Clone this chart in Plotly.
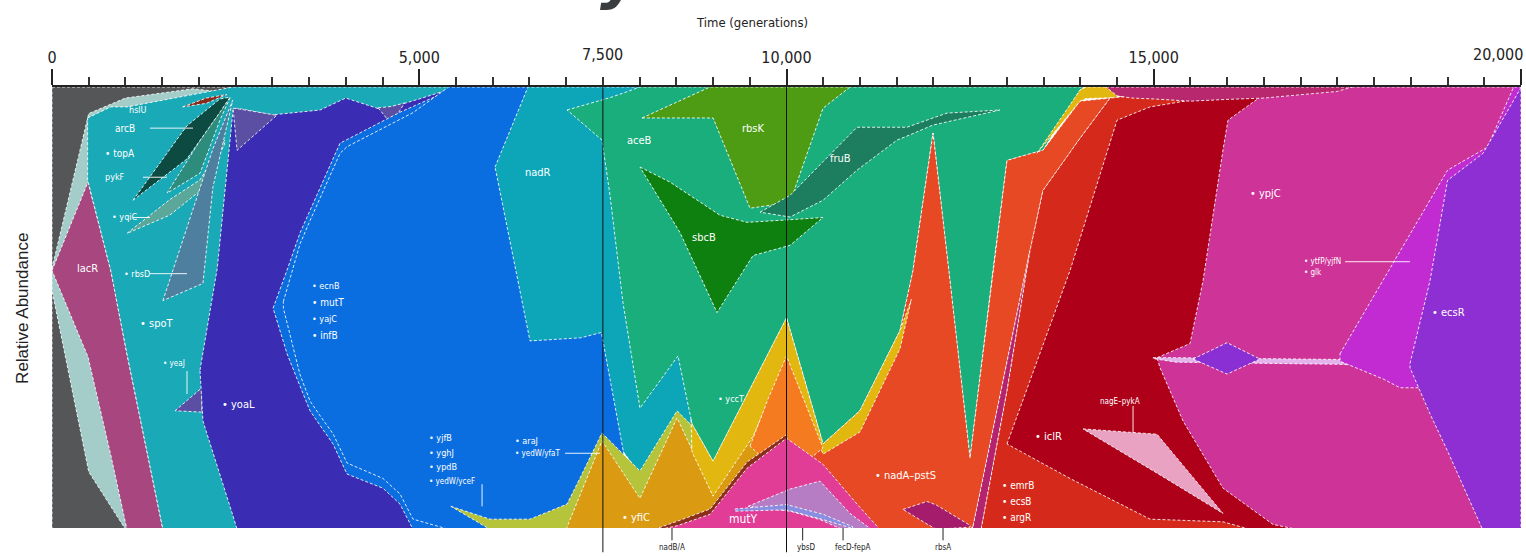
import plotly.graph_objects as go

# ---------------- clone boundaries (generation, lower %, upper %) ----------------
ANC_T = [0, 2470]
ANC_LO = [0, 0]
ANC_HI = [100, 100]

PALE_T = [0, 500, 1000, 1920, 2500]
PALE_LO = [54, 13, 0, 0, 0]
PALE_HI = [59, 94, 97.5, 99.6, 98.5]

LACR_T = [0, 490, 800, 1020, 1510]
LACR_LO = [58.5, 39, 16.8, 0, 0]
LACR_HI = [58.5, 78.5, 58.5, 39.7, 0]

SBCT_T = [485, 800, 1020, 1510, 2000, 2465, 5600]
SBCT_LO = [79, 58.5, 39.7, 0, 0, 0, 0]
SBCT_HI = [93, 95.5, 95.5, 97, 98.5, 100, 100]

LSEA_T = [1020, 1600, 2015, 2350]
LSEA_LO = [66.9, 71, 76.5, 87]
LSEA_HI = [66.9, 74.5, 79, 88]

GBLUE_T = [1510, 2055, 2190, 2460]
GBLUE_LO = [51.7, 55.6, 77.3, 97]
GBLUE_HI = [51.7, 79.4, 86, 97]

SEAG_T = [1566, 2015, 2286, 2423]
SEAG_LO = [76, 80.5, 92.5, 97.5]
SEAG_HI = [76, 87.9, 94.3, 97.7]

DKSL_T = [1103, 1835, 2286, 2423]
DKSL_LO = [74.4, 83.7, 94.3, 97.7]
DKSL_HI = [74.4, 91.2, 97.3, 97.7]

BRN1_T = [1780, 2100, 2380]
BRN1_LO = [95.5, 96.3, 98.3]
BRN1_HI = [95.5, 97.5, 98.3]

SLATE1_T = [1675, 2040]
SLATE1_LO = [26.8, 26.5]
SLATE1_HI = [26.8, 32]

YOAL_T = [2015, 2055, 2250, 2465, 2520, 3000, 3650, 4000, 4500, 5000, 5514, 6000]
YOAL_LO = [36, 24.5, 14.4, 3, 0, 0, 0, 0, 0, 0, 0, 0]
YOAL_HI = [36, 40, 59, 94.8, 95.2, 93.7, 94.8, 97.5, 94.8, 97.3, 100, 100]

SLATE2_T = [2465, 2520, 3060]
SLATE2_LO = [95.2, 85.7, 93.6]
SLATE2_HI = [95.2, 95.1, 93.6]

SLATE3_T = [4440, 4620, 4800]
SLATE3_LO = [95.3, 91.6, 96.4]
SLATE3_HI = [95.3, 95.6, 96.4]

BLUE_T = [3010, 3145, 3200, 3376, 3513, 3649, 3826, 3921, 4016, 4506, 4738, 4915, 5514, 7780]
BLUE_LO = [50, 42.7, 39.7, 32.4, 26.8, 23.5, 19.3, 15.9, 12.5, 9.3, 5.7, 0, 0, 0]
BLUE_HI = [50, 56, 58.6, 67, 72, 77, 83.7, 87.3, 88.1, 92.3, 94.3, 95.6, 100, 100]

BLUE2_T = [3150, 3376, 3513, 3649, 3826, 3921, 4016, 4506, 4738, 4915, 5400, 7780]
BLUE2_LO = [50, 35, 29, 25.7, 21.6, 18.3, 15, 11.5, 8, 2.3, 0, 0]
BLUE2_HI = [51.5, 64.5, 69.8, 74.8, 81.5, 85, 86.5, 90.8, 92.8, 94.2, 100, 100]

NADR_T = [6032, 6331, 6480, 6508, 7200, 7480, 7780, 8005, 8510, 8714]
NADR_LO = [81.9, 56.9, 44.9, 42.6, 43.3, 44.5, 17.5, 12.5, 26.3, 23.4]
NADR_HI = [81.9, 93.9, 100, 100, 100, 100, 100, 100, 100, 100]

LIME_T = [5430, 5963, 6508, 7012, 7189, 7488, 8005, 8510, 8714]
LIME_LO = [5.2, 0, 0, 0, 0, 0, 0, 0, 0]
LIME_HI = [5.2, 2.3, 2.3, 5.7, 11.6, 21.8, 13.2, 26.8, 23.4]

YFIC_T = [7000, 7488, 8005, 8510, 9000, 9544, 10000]
YFIC_LO = [0, 0, 0, 0, 0, 0, 0]
YFIC_HI = [0, 20, 7, 25.2, 7.9, 23, 25]

GREEN_T = [7012, 7488, 7597, 7774, 8005, 8523, 8714, 9000, 10000, 10497, 11000,
           11545, 11722, 11995, 12226, 12499, 12811, 13002, 13492, 13996, 14050]
GREEN_LO = [94.8, 88, 75.5, 51.2, 27.4, 39.2, 23.8, 15.4, 47.8, 19.3, 26.8,
            44.9, 58.5, 89.6, 56.2, 16.1, 58.5, 83.4, 85.7, 99.3, 100]
GREEN_HI = [94.8, 97, 97.6, 98.6, 100, 100, 100, 100, 100, 100, 100,
            100, 100, 100, 100, 100, 100, 100, 100, 100, 100]

RBSK_T = [8033, 8959, 9000, 9503, 10048, 10497, 10865]
RBSK_LO = [93, 93, 93, 72.6, 73.9, 95.2, 100]
RBSK_HI = [93, 100, 100, 100, 100, 100, 100]

SBCB_T = [8005, 8414, 8550, 9054, 9095, 9463, 9544, 10048, 10497]
SBCB_LO = [81.9, 70.8, 67.1, 49, 50.1, 59.8, 61.9, 64.2, 70.5]
SBCB_HI = [81.9, 78.5, 77, 71.5, 71, 69.4, 69.5, 70, 70.5]

FRUB_T = [9640, 10048, 10497, 10960, 11505, 11640, 11995, 12185, 12907]
FRUB_LO = [71.7, 70.6, 74.4, 81.2, 88, 88.9, 91.4, 92.1, 94.8]
FRUB_HI = [71.7, 75.5, 83.1, 90.9, 90.9, 90.9, 93, 94.1, 94.8]

HSLU_T = [10000, 10497, 11000, 11545, 11722, 11995, 12226, 12499, 12540,
          12811, 13002, 13315, 13492, 13996, 14405]
HSLU_LO = [0, 0, 0, 0, 0, 0, 0, 0, 0.7, 22.7, 38.1, 63, 76.6, 88.4, 97.5]
HSLU_HI = [47.8, 19.3, 26.8, 44.9, 58.5, 89.6, 56.2, 16.1, 21.7,
           58.5, 83.4, 84.9, 85.7, 96.8, 97.5]

YCCT_T = [8700, 8714, 9000, 9544, 10000, 10497, 11000, 11545, 11700]
YCCT_LO = [24.9, 17.5, 7.5, 21, 38.5, 17, 22, 40.8, 52]
YCCT_HI = [24.9, 23.8, 15.4, 33, 47.8, 19.3, 26.8, 44.9, 52]

YSTRIP_T = [13410, 13996, 14080, 14500]
YSTRIP_LO = [85, 96.8, 97.4, 97.6]
YSTRIP_HI = [85, 99.3, 100, 100]

ORNG_T = [9503, 9750, 10000, 10250, 10497]
ORNG_LO = [18.8, 15, 20, 15, 18.4]
ORNG_HI = [18.8, 29.5, 39.2, 28.8, 18.4]

BROWN_T = [8200, 8510, 8960, 9463, 10000]
BROWN_LO = [0, 0, 0, 0, 0]
BROWN_HI = [0, 1.8, 4.6, 15.2, 21.4]

MUTY_T = [8280, 8510, 8960, 9463, 10000, 10497, 10960, 11270]
MUTY_LO = [0, 0, 0, 0, 0, 0, 0, 0]
MUTY_HI = [0, 0.8, 3.4, 13.8, 20.6, 14.7, 5.7, 0]

LAV_T = [9476, 10048, 10456, 10729, 10865, 11137]
LAV_LO = [5.2, 4.1, 2.2, 0.2, 0, 0]
LAV_HI = [5.2, 9.1, 10.9, 6.1, 3.6, 0.2]

PERI_T = [9300, 10000, 10500, 10900]
PERI_LO = [4.1, 4.4, 2.2, 0.2]
PERI_HI = [4.6, 5.6, 3.4, 0.6]

RBSA_T = [11586, 11913, 12040, 12499]
RBSA_LO = [4.5, 1.2, 0, 0.5]
RBSA_HI = [4.5, 6.3, 5.5, 0.9]

MAG_T = [12540, 12650, 12811, 13002, 13315]
MAG_LO = [0, 0, 14.3, 31.3, 63]
MAG_HI = [0.7, 9.5, 22.7, 38.1, 63]

RED_T = [12650, 12811, 13002, 13315, 13492, 13996, 14405, 15000, 16600]
RED_LO = [0, 0, 0, 0, 0, 0, 0, 0, 0]
RED_HI = [0, 14.3, 31.3, 63, 76.6, 88.4, 97.5, 98.5, 98.5]

ICLR_T = [13002, 13860, 14500, 14950, 15494, 15943, 16311, 16447, 16950]
ICLR_LO = [19.3, 11.5, 6.1, 2.3, 2.0, 1.7, 0, 0, 0]
ICLR_HI = [19.3, 58.5, 92.5, 95.5, 97, 97.5, 97.6, 97.7, 97.7]

LPINK_T = [14037, 15045, 15943]
LPINK_LO = [22.7, 12.7, 3.6]
LPINK_HI = [22.7, 21.5, 3.6]

YPJC_T = [15045, 15086, 15399, 15494, 15671, 15903, 15943, 16011, 16447, 16624, 16950, 17000, 20000]
YPJC_LO = [38.8, 36.5, 24.5, 21.8, 16.9, 10.4, 9.3, 8.5, 3.2, 1.1, 0, 0, 0]
YPJC_HI = [38.8, 39.1, 41.3, 42, 56.2, 81.9, 85.8, 92.5, 97.7, 98.7, 99.6, 100, 100]

TOPM_T = [14350, 14500, 14700, 15000, 15500, 16000, 16500, 17000, 17500, 17700]
TOPM_LO = [100, 98, 97.5, 97.3, 96.8, 97.2, 97.5, 98.2, 99, 100]
TOPM_HI = [100, 100, 100, 100, 100, 100, 100, 100, 100, 100]

THIN_T = [14991, 15300, 17536, 18489]
THIN_LO = [38.6, 37.8, 37.3, 36.6]
THIN_HI = [38.8, 38.8, 38.4, 37.8]

DIAM_T = [15535, 15998, 16447]
DIAM_LO = [38.5, 35.1, 38.5]
DIAM_HI = [38.5, 42.2, 38.5]

VIOL_T = [17536, 18122, 18353, 18489, 19000, 19544, 19900, 20000]
VIOL_LO = [38, 34, 32, 32, 32, 32, 32, 32]
VIOL_HI = [39.7, 56.2, 62.8, 66.6, 81.2, 86.4, 100, 100]

PURP_T = [18489, 18530, 18761, 19000, 19129, 19470, 19483, 19987, 20000]
PURP_LO = [36.5, 34.9, 26.1, 17.7, 13.2, 0.2, 0, 0, 0]
PURP_HI = [37.5, 40.4, 56.2, 78.9, 80.5, 84.8, 85, 99.5, 100]

# painting order (ancestors first, descendants on top)
CLONES = [
    (ANC_T, ANC_LO, ANC_HI, "#555657"),
    (PALE_T, PALE_LO, PALE_HI, "#a4cdc9"),
    (LACR_T, LACR_LO, LACR_HI, "#a8467f"),
    (SBCT_T, SBCT_LO, SBCT_HI, "#19a9b7"),
    (LSEA_T, LSEA_LO, LSEA_HI, "#5ba79a"),
    (GBLUE_T, GBLUE_LO, GBLUE_HI, "#4e7f9f"),
    (SEAG_T, SEAG_LO, SEAG_HI, "#2d8c7c"),
    (DKSL_T, DKSL_LO, DKSL_HI, "#0c4a42"),
    (BRN1_T, BRN1_LO, BRN1_HI, "#8b2a1a"),
    (SLATE1_T, SLATE1_LO, SLATE1_HI, "#5a4fa3"),
    (YOAL_T, YOAL_LO, YOAL_HI, "#3a2db4"),
    (SLATE2_T, SLATE2_LO, SLATE2_HI, "#5a4fa3"),
    (SLATE3_T, SLATE3_LO, SLATE3_HI, "#5a4fa3"),
    (BLUE_T, BLUE_LO, BLUE_HI, "#0b6ee0"),
    (BLUE2_T, BLUE2_LO, BLUE2_HI, "#0b6ee0"),
    (NADR_T, NADR_LO, NADR_HI, "#0ca6b8"),
    (LIME_T, LIME_LO, LIME_HI, "#b6c43b"),
    (YFIC_T, YFIC_LO, YFIC_HI, "#da9a12"),
    (GREEN_T, GREEN_LO, GREEN_HI, "#19ae7c"),
    (RBSK_T, RBSK_LO, RBSK_HI, "#4d9c14"),
    (SBCB_T, SBCB_LO, SBCB_HI, "#0e800f"),
    (FRUB_T, FRUB_LO, FRUB_HI, "#1c7e5e"),
    (HSLU_T, HSLU_LO, HSLU_HI, "#e84925"),
    (YCCT_T, YCCT_LO, YCCT_HI, "#e2b710"),
    (YSTRIP_T, YSTRIP_LO, YSTRIP_HI, "#e2b710"),
    (ORNG_T, ORNG_LO, ORNG_HI, "#f47b20"),
    (BROWN_T, BROWN_LO, BROWN_HI, "#8c2e1c"),
    (MUTY_T, MUTY_LO, MUTY_HI, "#e13d97"),
    (LAV_T, LAV_LO, LAV_HI, "#b67dc4"),
    (PERI_T, PERI_LO, PERI_HI, "#8a8ee0"),
    (RBSA_T, RBSA_LO, RBSA_HI, "#a41c6b"),
    (MAG_T, MAG_LO, MAG_HI, "#b4236e"),
    (RED_T, RED_LO, RED_HI, "#d52a1b"),
    (ICLR_T, ICLR_LO, ICLR_HI, "#ae0019"),
    (LPINK_T, LPINK_LO, LPINK_HI, "#e9a2c2"),
    (YPJC_T, YPJC_LO, YPJC_HI, "#ce3397"),
    (TOPM_T, TOPM_LO, TOPM_HI, "#b8286f"),
    (THIN_T, THIN_LO, THIN_HI, "#e3b3ec"),
    (DIAM_T, DIAM_LO, DIAM_HI, "#8a2fd3"),
    (VIOL_T, VIOL_LO, VIOL_HI, "#c22ad2"),
    (PURP_T, PURP_LO, PURP_HI, "#8d2fd2"),
]

# ---------------- labels ----------------
LABEL_TEXT = ["lacR", "hslU", "arcB", "• topA", "pykF", "• yqiC", "• rbsD", "• spoT",
              "• yeaJ", "• yoaL", "• ecnB", "• mutT", "• yajC", "• infB", "nadR",
              "• yjfB", "• yghJ", "• ypdB", "• yedW/yceF", "• araJ", "• yedW/yfaT",
              "aceB", "rbsK", "sbcB", "fruB", "• yccT", "• yfiC", "mutY",
              "• nadA–pstS", "• emrB", "• ecsB", "• argR", "• iclR", "nagE–pykA",
              "• ypjC", "• ytfP/yjfN", "• glk", "• ecsR"]
LABEL_X = [313, 1021, 830, 694, 694, 790, 953, 1171,
           1484, 2287, 3513, 3513, 3513, 3513, 6413,
           5106, 5106, 5106, 5106, 6277, 6277,
           7801, 9367, 8686, 10565, 9040, 7733, 9190,
           11178, 12907, 12907, 12907, 13356, 14241,
           16283, 17019, 17019, 18761]
LABEL_Y = [59, 94.8, 90.7, 85, 79.6, 70.5, 57.8, 46.5,
           37.4, 28.3, 55.1, 51.2, 47.6, 43.8, 80.7,
           20.6, 17.2, 14.1, 10.9, 20, 17.2,
           88, 90.7, 66, 83.9, 29.5, 2.7, 2.3,
           12.2, 10, 6.3, 2.7, 20.9, 29,
           76, 60.5, 58, 49]
LABEL_SIZE = [11, 9, 10, 10, 9, 9, 9, 11,
              8, 11, 9, 10, 9, 10, 11,
              9, 9, 9, 8, 9, 8,
              11, 11, 11, 11, 9, 11, 12,
              11, 10, 10, 10, 11, 8,
              11, 8, 8, 11]

LEAD_X0 = [1334, 1239, 1103, 1334, 1838, 5855, 6985, 14718, 17604]
LEAD_X1 = [1920, 1566, 1334, 1838, 1838, 5855, 7461, 14718, 18489]
LEAD_Y0 = [90.7, 79.6, 70.5, 57.8, 35.8, 10.2, 17.2, 27.9, 60.5]
LEAD_Y1 = [90.7, 79.6, 70.5, 57.8, 30.6, 5.2, 17.2, 21.8, 60.5]

BOTTOM_TEXT = ["nadB/A", "ybsD", "fecD-fepA", "rbsA"]
BOTTOM_X = [8441, 10270, 10900, 12131]
BOTTOM_LINE_X = [8441, 10220, 10770, 12131]

MAJOR_TICKS = [0, 5000, 10000, 15000, 20000]
MAJOR_TEXT = ["0", "5,000", "10,000", "15,000", ""]
MARKER_LINES = [7500, 10000]

NARROW = "Liberation Sans Narrow, DejaVu Sans Condensed, Arial Narrow, sans-serif"

fig = go.Figure()
for t, lo, hi, col in CLONES:
    xs = list(t) + list(t[::-1]) + [t[0]]
    ys = list(hi) + list(lo[::-1]) + [hi[0]]
    fig.add_trace(go.Scatter(
        x=xs, y=ys, mode="lines", fill="toself", fillcolor=col,
        line=dict(color="rgba(255,255,255,0.85)", width=1, dash="3px,2px"),
        hoverinfo="skip", showlegend=False))

annotations = []
for txt, x, y, s in zip(LABEL_TEXT, LABEL_X, LABEL_Y, LABEL_SIZE):
    annotations.append(dict(x=x, y=y, xref="x", yref="y", text=txt, showarrow=False,
                            xanchor="left", yanchor="middle",
                            font=dict(family=NARROW, size=s, color="white")))
for txt, x in zip(BOTTOM_TEXT, BOTTOM_X):
    annotations.append(dict(x=x, y=-0.045, xref="x", yref="paper", text=txt, showarrow=False,
                            xanchor="center", yanchor="middle",
                            font=dict(family=NARROW, size=8, color="#222")))
annotations.append(dict(x=7500, y=1.073, xref="x", yref="paper", text="7,500", showarrow=False,
                        xanchor="center", yanchor="middle",
                        font=dict(family=NARROW, size=16, color="#222")))
annotations.append(dict(x=20000, y=1.073, xref="x", yref="paper", text="20,000", showarrow=False,
                        xanchor="right", yanchor="middle", xshift=4,
                        font=dict(family=NARROW, size=16, color="#222")))
annotations.append(dict(x=9530, y=1.147, xref="x", yref="paper", text="Time (generations)",
                        showarrow=False, xanchor="center", yanchor="middle",
                        font=dict(family=NARROW, size=13, color="#222")))
annotations.append(dict(x=-0.0197, y=0.497, xref="paper", yref="paper", text="Relative Abundance",
                        showarrow=False, textangle=-90, xanchor="center", yanchor="middle",
                        font=dict(family="Liberation Sans, Arial, sans-serif", size=17, color="#222")))
# tail of the cropped headline above the chart
annotations.append(dict(x=7760, y=1.166, xref="x", yref="paper", text="<b><i>y</i></b>",
                        showarrow=False, xanchor="center", yanchor="bottom",
                        font=dict(family="DejaVu Sans", size=62, color="#3a3d40")))

shapes = []
for x0, x1, y0, y1 in zip(LEAD_X0, LEAD_X1, LEAD_Y0, LEAD_Y1):
    shapes.append(dict(type="line", xref="x", yref="y", x0=x0, x1=x1, y0=y0, y1=y1,
                       line=dict(color="rgba(255,255,255,0.9)", width=1), layer="above"))
for x in BOTTOM_LINE_X:
    shapes.append(dict(type="line", xref="x", yref="paper", x0=x, x1=x, y0=0, y1=-0.028,
                       line=dict(color="#222", width=1), layer="above"))
for x in MARKER_LINES:
    shapes.append(dict(type="line", xref="x", yref="paper", x0=x, x1=x, y0=-0.055, y1=1,
                       line=dict(color="#111", width=1), layer="above"))

fig.update_layout(
    width=1526, height=557,
    margin=dict(l=52, r=5, t=87, b=29),
    paper_bgcolor="white", plot_bgcolor="white",
    showlegend=False,
    annotations=annotations, shapes=shapes,
    xaxis=dict(range=[0, 20000], side="top", showgrid=False, zeroline=False,
               showline=True, linecolor="#222", linewidth=2,
               ticks="outside", ticklen=16, tickwidth=2, tickcolor="#222",
               tickmode="array", tickvals=MAJOR_TICKS, ticktext=MAJOR_TEXT,
               tickfont=dict(family=NARROW, size=16, color="#222"),
               minor=dict(tickmode="linear", tick0=0, dtick=500, ticklen=8,
                          tickwidth=1.5, tickcolor="#333", ticks="outside")),
    yaxis=dict(range=[0.3, 100], visible=False, fixedrange=True),
)

fig.write_html("out.html", config={"displayModeBar": False},
               post_script="document.body.style.margin='0px';document.body.style.padding='0px';")
